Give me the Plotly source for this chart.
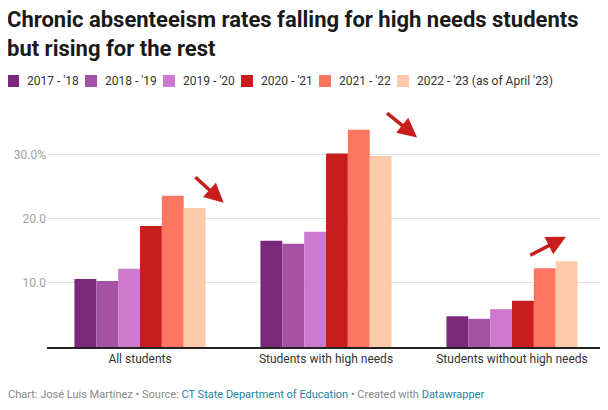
import plotly.graph_objects as go

# Chronic absenteeism rates (%) by group and school year
groups = ["All students", "Students with high needs", "Students without high needs"]
years = ["2017 - '18", "2018 - '19", "2019 - '20", "2020 - '21", "2021 - '22", "2022 - '23 (as of April '23)"]
rate_2017 = [10.6, 16.6, 4.8]
rate_2018 = [10.3, 16.1, 4.4]
rate_2019 = [12.2, 18.0, 5.9]
rate_2020 = [18.9, 30.2, 7.2]
rate_2021 = [23.6, 33.9, 12.3]
rate_2022 = [21.7, 29.8, 13.4]
series = [rate_2017, rate_2018, rate_2019, rate_2020, rate_2021, rate_2022]
colors = ["#7b2a7b", "#a552a5", "#cc79cf", "#c71e1d", "#fe7561", "#fecaa9"]

tick_vals = [10, 20, 30]
tick_text = ["10.0", "20.0", "30.0%"]

# trend arrows: (tail x, tail y, head x, head y) on the category axis
arrows = [
    (0.29, 26.7, 0.45, 22.5),
    (1.32, 36.7, 1.49, 32.7),
    (2.09, 14.2, 2.29, 17.2),
]

# the page body keeps an 8px margin, so the figure is a bit smaller than the window
OFF = 8
W, H = 608 - OFF, 410 - OFF
L, R, T, B = 39, 3, 100, 63


def px_x(px):
    # window pixel -> paper x
    return (px - OFF - L) / (W - L - R)


def px_y(py):
    # window pixel (from top) -> paper y
    return (H - B - (py - OFF)) / (H - T - B)


fig = go.Figure()
for name, vals, col in zip(years, series, colors):
    fig.add_trace(go.Bar(x=groups, y=vals, name=name, marker_color=col,
                         marker_line_width=0, hoverinfo="skip"))

for x0, y0, x1, y1 in arrows:
    fig.add_annotation(x=x1, y=y1, ax=x0, ay=y0, xref="x", yref="y",
                       axref="x", ayref="y", text="", showarrow=True,
                       arrowhead=2, arrowsize=1.1, arrowwidth=3.5,
                       arrowcolor="#c71e1d")

# title, two lines
fig.add_annotation(text="<b>Chronic absenteeism rates falling for high needs students</b>",
                   xref="paper", yref="paper", x=px_x(6), y=px_y(20),
                   xanchor="left", yanchor="middle", showarrow=False,
                   borderpad=0, font=dict(size=22, color="#1a1a1a"))
fig.add_annotation(text="<b>but rising for the rest</b>",
                   xref="paper", yref="paper", x=px_x(6), y=px_y(48),
                   xanchor="left", yanchor="middle", showarrow=False,
                   borderpad=0, font=dict(size=22, color="#1a1a1a"))

# legend row
step = 78
for i, (name, col) in enumerate(zip(years, colors)):
    left = 7 + i * step
    fig.add_shape(type="rect", xref="paper", yref="paper",
                  x0=px_x(left), x1=px_x(left + 12), y0=px_y(87), y1=px_y(75),
                  fillcolor=col, line_width=0)
    fig.add_annotation(text=name, xref="paper", yref="paper",
                       x=px_x(left + 18), y=px_y(81), xanchor="left",
                       yanchor="middle", showarrow=False,
                       font=dict(size=12, color="#333333"))

fig.add_annotation(
    text="Chart: José Luis Martínez • Source: <span style='color:#1d81a2'>CT State Department of Education</span>"
         " • Created with <span style='color:#1d81a2'>Datawrapper</span>",
    xref="paper", yref="paper", x=px_x(6), y=px_y(394), xanchor="left",
    yanchor="middle", showarrow=False, font=dict(size=11, color="#888888"))

fig.update_layout(
    width=W, height=H,
    margin=dict(l=L, r=R, t=T, b=B),
    paper_bgcolor="white", plot_bgcolor="white",
    font=dict(family="Roboto", color="#333333"),
    barmode="group", bargap=0.295, bargroupgap=0,
    showlegend=False,
    xaxis=dict(showline=True, linecolor="#222222", linewidth=1.5, ticks="",
               tickfont=dict(size=12, color="#333333"), fixedrange=True,
               automargin=False),
    yaxis=dict(range=[0, 37.3], tickvals=tick_vals, ticktext=tick_text,
               showgrid=True, gridcolor="#e3e3e3", gridwidth=1,
               zeroline=False, ticks="", automargin=False,
               tickfont=dict(size=12, color="#a0a0a0"), fixedrange=True),
)

fig.write_html("out.html")
